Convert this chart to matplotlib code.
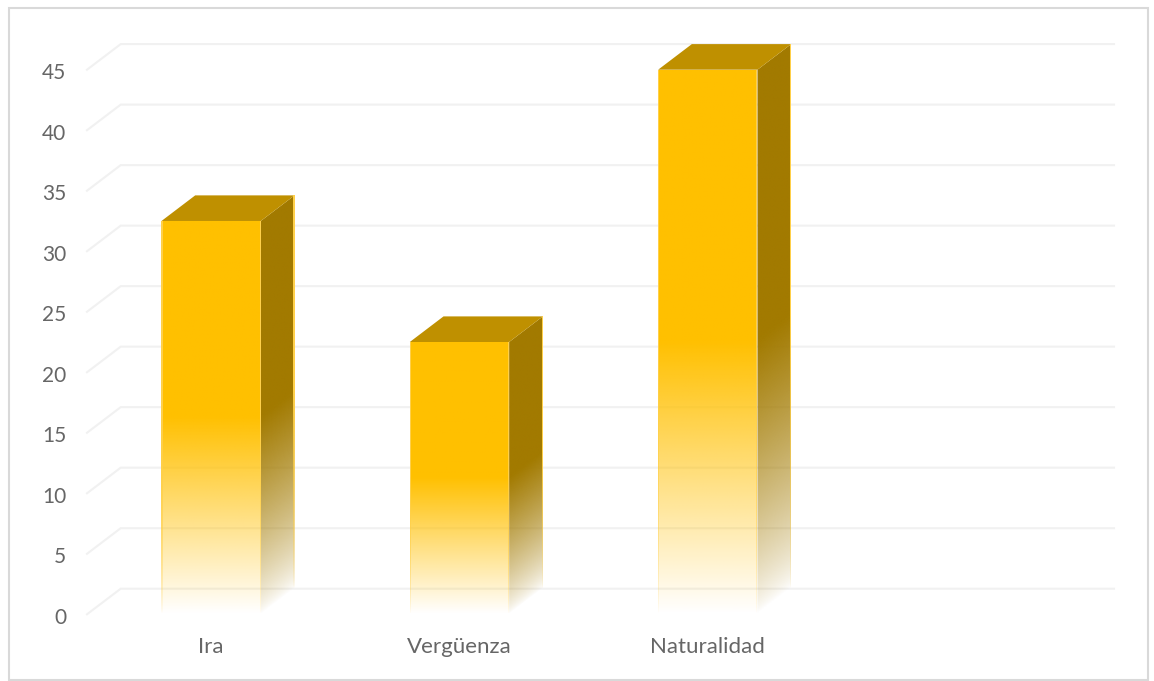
# -*- coding: utf-8 -*-
"""
Fake 3D column chart with fading bars (Ira / Verguenza / Naturalidad).
"""

####################
# IMPORTS
####################

import numpy as np
import matplotlib
matplotlib.use('Agg')
import matplotlib.pyplot as plt
from matplotlib.patches import Polygon, Rectangle
from matplotlib.colors import to_rgb
from matplotlib.transforms import ScaledTranslation


####################
# VARIABLES
####################

categories = ['Ira', 'Vergüenza', 'Naturalidad', '']
values = [32.5, 22.5, 45]
yticks = [0, 5, 10, 15, 20, 25, 30, 35, 40, 45]

# Figure size in pixels
width_px = 1154
height_px = 681

# Plot area of the front plane, pixels from top left
left_px, right_px = 87, 1080.3
top_px, bottom_px = 69.7, 614.3

# Depth of the 3D effect, in data units
depth_x = 33.7 / ((right_px - left_px) / 4)
depth_y = 25.6 / ((bottom_px - top_px) / 45)
bar_width = 0.40
edge_width = 1.2 / ((right_px - left_px) / 4)

front_color = '#FFC000'
side_color = '#A27A00'
top_color = '#BF9000'
edge_color = '#FFD04A'
grid_color = '#F1F1F1'
text_color = '#666666'


####################
# FUNCTIONS
####################
def fade_image(ax, x0, x1, y0, y1, alpha, color, outline):
    # Put an RGBA gradient on the axes, clipped to the face outline
    rgba = np.zeros(alpha.shape + (4,))
    rgba[..., :3] = to_rgb(color)
    rgba[..., 3] = alpha
    im = ax.imshow(rgba, extent=(x0, x1, y0, y1), origin='lower',
                   aspect='auto', interpolation='bilinear', zorder=3)
    # Depth part of the tallest bar sticks out above the axes
    im.set_clip_box(ax.figure.bbox)
    im.set_clip_path(Polygon(outline, transform=ax.transData))


def draw_edge(ax, xleft, y0, y1, val):
    # Thin lighter line along a vertical bar edge, fading like the faces
    yy = np.linspace(y0, y1, 300)
    alpha = np.clip((yy - y0) / (val * 0.5), 0, 1)[:, None] * np.ones((300, 2))
    xright = xleft + edge_width
    fade_image(ax, xleft, xright, y0, y1, alpha ** 0.7, edge_color,
               [(xleft, y0), (xright, y0), (xright, y1), (xleft, y1)])


def draw_bar(ax, xpos, val):
    x0 = xpos - bar_width / 2
    x1 = xpos + bar_width / 2

    # Front face, solid in the upper half and fading out to the floor
    yy = np.linspace(0, val, 300)
    alpha = np.clip(yy / (val * 0.5), 0, 1)[:, None] * np.ones((300, 2))
    fade_image(ax, x0, x1, 0, val, alpha, front_color,
               [(x0, 0), (x1, 0), (x1, val), (x0, val)])

    # Side face, the fade follows the slant of the bottom edge
    xs = np.linspace(x1, x1 + depth_x, 60)
    ys = np.linspace(0, val + depth_y, 300)
    xg, yg = np.meshgrid(xs, ys)
    slant = yg - (xg - x1) / depth_x * depth_y
    alpha = np.clip(slant / (val * 0.5), 0, 1) ** 0.75
    fade_image(ax, x1, x1 + depth_x, 0, val + depth_y, alpha, side_color,
               [(x1, 0), (x1 + depth_x, depth_y),
                (x1 + depth_x, val + depth_y), (x1, val)])

    # Top face
    ax.add_patch(Polygon([(x0, val), (x1, val),
                          (x1 + depth_x, val + depth_y),
                          (x0 + depth_x, val + depth_y)],
                         facecolor=top_color, edgecolor='none',
                         zorder=3, clip_on=False))

    # Lighter edges
    draw_edge(ax, x0, 0, val, val)
    draw_edge(ax, x1 - edge_width, 0, val, val)
    draw_edge(ax, x1 + depth_x - edge_width, depth_y, val + depth_y, val)


####################
# MAIN
####################
if __name__ == '__main__':
    plt.rcParams['font.family'] = ['Lato', 'DejaVu Sans']

    fig = plt.figure(figsize=(width_px / 100, height_px / 100), dpi=100,
                     facecolor='white')

    # Outer frame of the chart
    fig.add_artist(Rectangle((8.5 / width_px, 1.5 / height_px),
                             1139.5 / width_px, 671.5 / height_px,
                             transform=fig.transFigure, facecolor='none',
                             edgecolor='#D9D9D9', linewidth=1.5))

    ax = fig.add_axes([left_px / width_px,
                       1 - bottom_px / height_px,
                       (right_px - left_px) / width_px,
                       (bottom_px - top_px) / height_px])

    # Gridlines: side wall diagonal and then along the back wall
    for tick in yticks:
        ax.plot([-0.5, -0.5 + depth_x, 3.5 + depth_x],
                [tick, tick + depth_y, tick + depth_y],
                color=grid_color, linewidth=1.5, zorder=1, clip_on=False,
                solid_joinstyle='miter')

    xpos = np.arange(len(categories))
    for pos, val in zip(xpos, values):
        draw_bar(ax, pos, val)

    ax.set_xlim(-0.5, 3.5)
    ax.set_ylim(0, 45)
    ax.set_xticks(xpos)
    ax.set_xticklabels(categories)
    ax.set_yticks(yticks)
    ax.tick_params(axis='both', length=0, colors=text_color)
    ax.tick_params(axis='y', pad=15, labelsize=15)
    ax.tick_params(axis='x', pad=16.5, labelsize=16)
    ax.patch.set_alpha(0)
    for spine in ax.spines.values():
        spine.set_visible(False)

    # Value labels sit slightly below their gridline ends
    shift = ScaledTranslation(0, -1.5 / 100, fig.dpi_scale_trans)
    for label in ax.get_yticklabels():
        label.set_transform(label.get_transform() + shift)

    fig.savefig('out.png', dpi=100, facecolor='white')
